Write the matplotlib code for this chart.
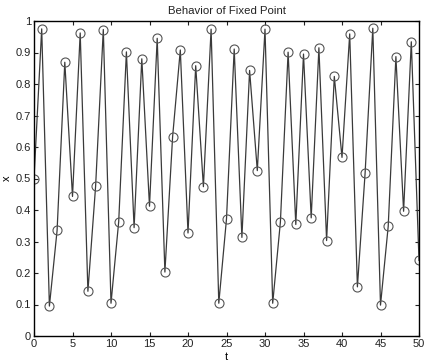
import matplotlib
matplotlib.use("Agg")
import matplotlib.pyplot as plt

t = list(range(51))
x = [0.500, 0.975, 0.095, 0.3355, 0.869, 0.443, 0.962, 0.142, 0.475, 0.973,
     0.104, 0.363, 0.902, 0.344, 0.880, 0.412, 0.945, 0.203, 0.632, 0.908,
     0.327, 0.858, 0.474, 0.974, 0.104, 0.372, 0.911, 0.313, 0.843, 0.525,
     0.974, 0.104, 0.362, 0.901, 0.354, 0.895, 0.375, 0.915, 0.303, 0.824,
     0.567, 0.959, 0.156, 0.517, 0.977, 0.098, 0.348, 0.887, 0.396, 0.934,
     0.240]
xticks = [0, 5, 10, 15, 20, 25, 30, 35, 40, 45, 50]
yticks = [0, 0.1, 0.2, 0.3, 0.4, 0.5, 0.6, 0.7, 0.8, 0.9, 1]
ytick_labels = ["0", "0.1", "0.2", "0.3", "0.4", "0.5", "0.6", "0.7", "0.8", "0.9", "1"]

plt.rcParams['font.family'] = ['Liberation Sans', 'DejaVu Sans']
fig = plt.figure(figsize=(4.29, 3.64), dpi=100)
ax = fig.add_axes([34/429, 28/364, 385/429, 315/364])
ax.plot(t, x, '-', color='#3a3a3a', linewidth=0.9, marker='o', markersize=6.5,
        markerfacecolor='none', markeredgecolor='#555555', markeredgewidth=0.8)
ax.set_xlim(0, 50)
ax.set_ylim(0, 1)
ax.set_xticks(xticks)
ax.set_yticks(yticks)
ax.set_yticklabels(ytick_labels)
ax.tick_params(direction='in', top=True, right=True, labelsize=8, length=3,
               colors='#222222', pad=2)
for s in ax.spines.values():
    s.set_linewidth(1.0)
ax.set_title("Behavior of Fixed Point", fontsize=8.2, color='#222222', pad=5)
ax.set_xlabel("t", fontsize=8, labelpad=2)
ax.set_ylabel("x", fontsize=8, labelpad=3)
fig.savefig("out.png", dpi=100)
